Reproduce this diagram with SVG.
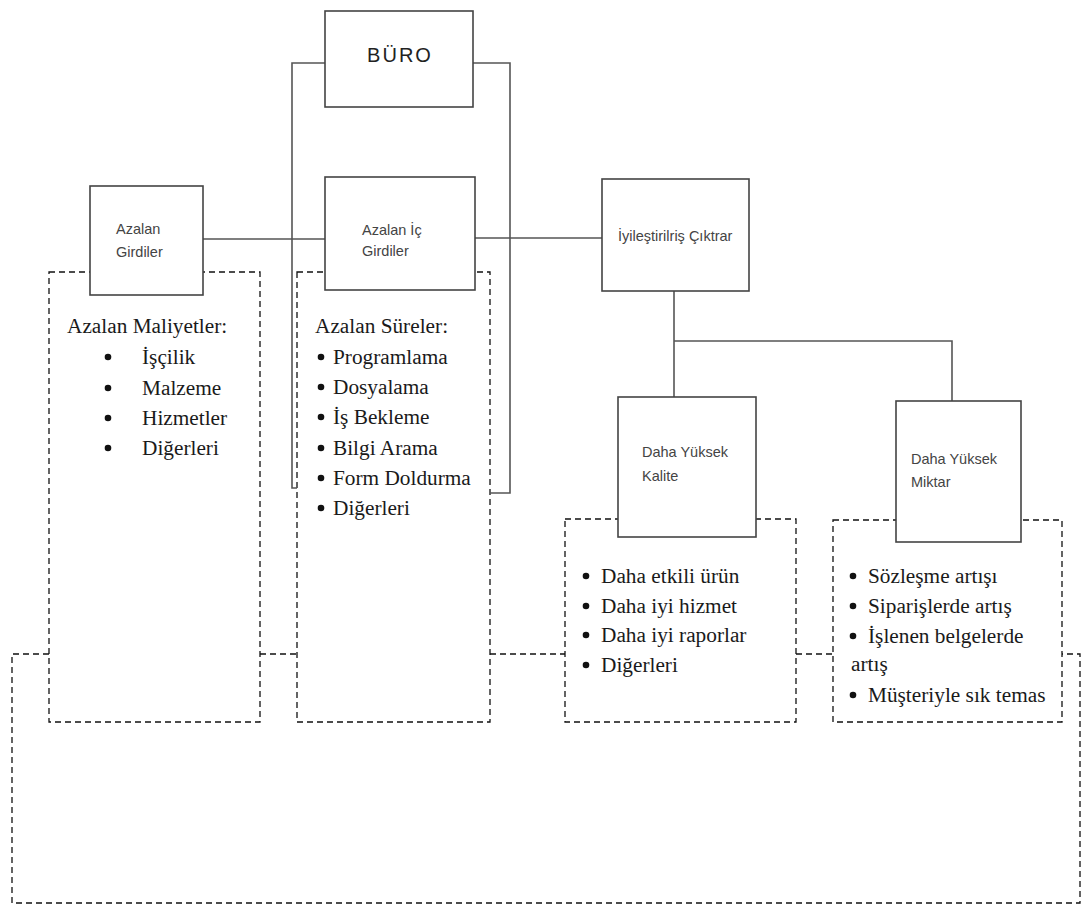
<svg xmlns="http://www.w3.org/2000/svg" width="1085" height="909" viewBox="0 0 1085 909">
<style>
.box{fill:#fff;stroke:#444;stroke-width:1.6}
.dbox{fill:none;stroke:#111;stroke-width:1.3;stroke-dasharray:6 4}
.line{fill:none;stroke:#555;stroke-width:1.6}
.dline{fill:none;stroke:#111;stroke-width:1.3;stroke-dasharray:6 4}
.lbl{font-family:"Liberation Sans",Arial,sans-serif;font-size:14.5px;fill:#444}
.big{font-family:"Liberation Sans",Arial,sans-serif;font-size:20px;fill:#222;letter-spacing:2px}
.body{font-family:"Liberation Serif","Times New Roman",serif;font-size:21.3px;fill:#1a1a1a}
.dot{fill:#111}
</style>
<rect width="1085" height="909" fill="#fff"/>
<g id="dashed-panels">
<rect class="dbox" x="49" y="272" width="211" height="450"/>
<rect class="dbox" x="297" y="272" width="193" height="450"/>
<rect class="dbox" x="565" y="519" width="231" height="203"/>
<rect class="dbox" x="833" y="520" width="229" height="202"/>
</g>
<g id="connectors">
<polyline class="line" points="325,63 292,63 292,488 297,488"/>
<polyline class="line" points="473,63 510,63 510,493 490,493"/>
<line class="line" x1="203" y1="239" x2="325" y2="239"/>
<line class="line" x1="475" y1="238" x2="602" y2="238"/>
<line class="line" x1="674" y1="291" x2="674" y2="397"/>
<polyline class="line" points="674,341 952,341 952,401"/>
<polyline class="dline" points="49,654 12,654 12,903 1080,903 1080,654 1062,654"/>
<line class="dline" x1="260" y1="654" x2="297" y2="654"/>
<line class="dline" x1="490" y1="654" x2="565" y2="654"/>
<line class="dline" x1="796" y1="654" x2="833" y2="654"/>
</g>
<g id="buro">
<rect class="box" x="325" y="11" width="148" height="96"/>
<text class="big" x="400" y="62" text-anchor="middle">BÜRO</text>
</g>
<g id="azalan-girdiler">
<rect class="box" x="90" y="186" width="113" height="109"/>
<text class="lbl" x="116" y="234">Azalan</text>
<text class="lbl" x="116" y="257">Girdiler</text>
</g>
<g id="azalan-ic-girdiler">
<rect class="box" x="325" y="177" width="150" height="113"/>
<text class="lbl" x="362" y="235">Azalan İç</text>
<text class="lbl" x="362" y="256">Girdiler</text>
</g>
<g id="iyilestirilris-ciktrar">
<rect class="box" x="602" y="179" width="147" height="112"/>
<text class="lbl" x="618" y="241">İyileştirilriş Çıktrar</text>
</g>
<g id="daha-yuksek-kalite">
<rect class="box" x="618" y="397" width="138" height="140"/>
<text class="lbl" x="642" y="457">Daha Yüksek</text>
<text class="lbl" x="642" y="481">Kalite</text>
</g>
<g id="daha-yuksek-miktar">
<rect class="box" x="896" y="401" width="125" height="141"/>
<text class="lbl" x="911" y="464">Daha Yüksek</text>
<text class="lbl" x="911" y="487">Miktar</text>
</g>
<g id="azalan-maliyetler">
<text class="body" x="67" y="333">Azalan Maliyetler:</text>
<circle class="dot" cx="108" cy="357" r="3.3"/><text class="body" x="142" y="364">İşçilik</text>
<circle class="dot" cx="108" cy="388" r="3.3"/><text class="body" x="142" y="395">Malzeme</text>
<circle class="dot" cx="108" cy="418" r="3.3"/><text class="body" x="142" y="425">Hizmetler</text>
<circle class="dot" cx="108" cy="448" r="3.3"/><text class="body" x="142" y="455">Diğerleri</text>
</g>
<g id="azalan-sureler">
<text class="body" x="315" y="333">Azalan Süreler:</text>
<circle class="dot" cx="321" cy="357" r="3.3"/><text class="body" x="333" y="364">Programlama</text>
<circle class="dot" cx="321" cy="387" r="3.3"/><text class="body" x="333" y="394">Dosyalama</text>
<circle class="dot" cx="321" cy="417" r="3.3"/><text class="body" x="333" y="424">İş Bekleme</text>
<circle class="dot" cx="321" cy="448" r="3.3"/><text class="body" x="333" y="455">Bilgi Arama</text>
<circle class="dot" cx="321" cy="478" r="3.3"/><text class="body" x="333" y="485">Form Doldurma</text>
<circle class="dot" cx="321" cy="508" r="3.3"/><text class="body" x="333" y="515">Diğerleri</text>
</g>
<g id="kalite-list">
<circle class="dot" cx="586" cy="576" r="3.3"/><text class="body" x="601" y="583">Daha etkili ürün</text>
<circle class="dot" cx="586" cy="606" r="3.3"/><text class="body" x="601" y="613">Daha iyi hizmet</text>
<circle class="dot" cx="586" cy="635" r="3.3"/><text class="body" x="601" y="642">Daha iyi raporlar</text>
<circle class="dot" cx="586" cy="665" r="3.3"/><text class="body" x="601" y="672">Diğerleri</text>
</g>
<g id="miktar-list">
<circle class="dot" cx="853" cy="576" r="3.3"/><text class="body" x="868" y="583">Sözleşme artışı</text>
<circle class="dot" cx="853" cy="606" r="3.3"/><text class="body" x="868" y="613">Siparişlerde artış</text>
<circle class="dot" cx="853" cy="636" r="3.3"/><text class="body" x="868" y="643">İşlenen belgelerde</text>
<text class="body" x="851" y="671">artış</text>
<circle class="dot" cx="853" cy="695" r="3.3"/><text class="body" x="868" y="702">Müşteriyle sık temas</text>
</g>
</svg>
